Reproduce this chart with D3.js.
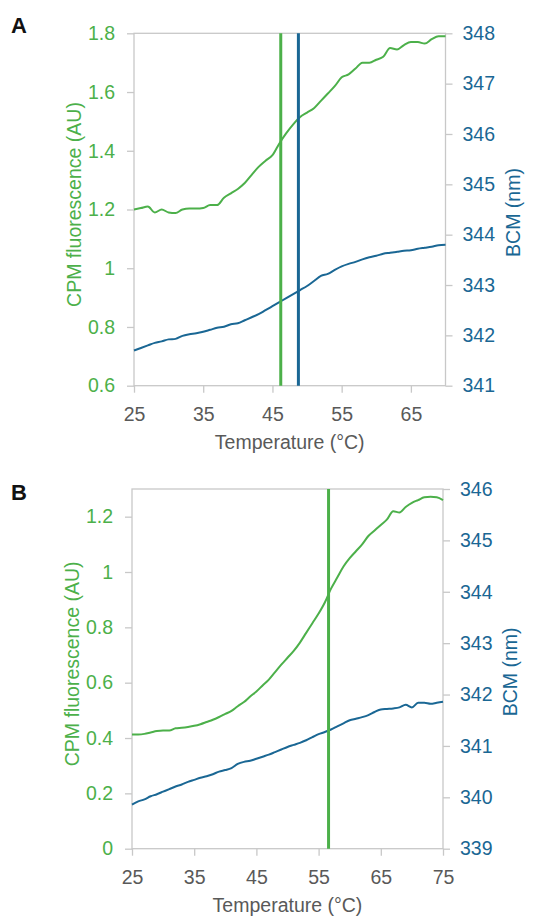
<!DOCTYPE html>
<html>
<head>
<meta charset="utf-8">
<script src="https://cdn.jsdelivr.net/npm/d3@7"></script>
<style>
  body { margin: 0; background: #fff; }
  svg { display: block; font-family: "Liberation Sans", Arial, sans-serif; }
</style>
</head>
<body>
<div id="chart"></div>
<script>
// Panel A: temperatures 25..70 °C
const tempA = d3.range(25, 71);
const cpmA = [1.20, 1.205, 1.21, 1.19, 1.20, 1.19, 1.188, 1.20, 1.203, 1.203,
  1.205, 1.215, 1.215, 1.24, 1.255, 1.27, 1.29, 1.318, 1.345, 1.366,
  1.385, 1.425, 1.46, 1.49, 1.515, 1.53, 1.545, 1.57, 1.595, 1.62,
  1.65, 1.66, 1.68, 1.70, 1.70, 1.71, 1.72, 1.75, 1.745, 1.76,
  1.77, 1.77, 1.765, 1.78, 1.79, 1.79];
const bcmA = [341.70, 341.75, 341.80, 341.85, 341.88, 341.92, 341.93, 341.99, 342.02, 342.04,
  342.07, 342.11, 342.15, 342.17, 342.22, 342.24, 342.30, 342.36, 342.42, 342.50,
  342.58, 342.66, 342.74, 342.82, 342.90, 342.98, 343.08, 343.18, 343.22, 343.30,
  343.37, 343.42, 343.46, 343.51, 343.55, 343.58, 343.62, 343.64, 343.66, 343.68,
  343.69, 343.72, 343.74, 343.76, 343.79, 343.80];
const tmA = { cpm: 46.2, bcm: 48.75 };

// Panel B: temperatures 25..75 °C
const tempB = d3.range(25, 76);
const cpmB = [0.413, 0.413, 0.415, 0.42, 0.425, 0.427, 0.427, 0.435, 0.437, 0.44,
  0.444, 0.45, 0.458, 0.466, 0.476, 0.487, 0.498, 0.515, 0.53, 0.55,
  0.568, 0.59, 0.611, 0.638, 0.665, 0.69, 0.715, 0.745, 0.78, 0.815,
  0.85, 0.89, 0.94, 0.98, 1.02, 1.05, 1.075, 1.10, 1.13, 1.15,
  1.17, 1.19, 1.22, 1.215, 1.235, 1.25, 1.26, 1.27, 1.272, 1.27, 1.26];
const bcmB = [339.86, 339.92, 339.96, 340.02, 340.06, 340.11, 340.16, 340.21, 340.25, 340.30,
  340.34, 340.38, 340.41, 340.45, 340.50, 340.53, 340.57, 340.65, 340.69, 340.71,
  340.75, 340.79, 340.83, 340.88, 340.93, 340.98, 341.02, 341.06, 341.11, 341.17,
  341.23, 341.27, 341.32, 341.38, 341.44, 341.50, 341.53, 341.56, 341.60, 341.66,
  341.71, 341.72, 341.73, 341.75, 341.80, 341.75, 341.84, 341.84, 341.82, 341.84, 341.86];
const tmB = { cpm: 56.6 };

const xTicksA = [25, 35, 45, 55, 65];
const xTicksB = [25, 35, 45, 55, 65, 75];
const cpmTicksA = [0.6, 0.8, 1, 1.2, 1.4, 1.6, 1.8];
const cpmTicksB = [0, 0.2, 0.4, 0.6, 0.8, 1, 1.2];
const bcmTicksA = [341, 342, 343, 344, 345, 346, 347, 348];
const bcmTicksB = [339, 340, 341, 342, 343, 344, 345, 346];

const green = "#4cb04a";
const blue = "#1a6794";
const gray = "#595959";
const axisGray = "#c8c8c8";
const fontSize = 19.5;

const svg = d3.select("#chart")
  .append("svg")
  .attr("width", 552)
  .attr("height", 916);

function panel(opts) {
  const { left, right, top, bottom } = opts;
  const g = svg.append("g");

  const x = d3.scaleLinear().domain(opts.xDomain).range([left, right]);
  const yL = d3.scaleLinear().domain(opts.cpmDomain).range([bottom, top]);
  const yR = d3.scaleLinear().domain(opts.bcmDomain).range([bottom, top]);

  // frame
  g.append("rect")
    .attr("x", left).attr("y", top)
    .attr("width", right - left).attr("height", bottom - top)
    .attr("fill", "none").attr("stroke", axisGray).attr("stroke-width", 1.3);

  const leftAxis = g.append("g")
    .attr("transform", `translate(${left},0)`)
    .call(d3.axisLeft(yL).tickValues(opts.cpmTicks).tickSize(7).tickPadding(12)
      .tickFormat(d3.format("~g")));
  const rightAxis = g.append("g")
    .attr("transform", `translate(${right},0)`)
    .call(d3.axisRight(yR).tickValues(opts.bcmTicks).tickSize(7).tickPadding(10)
      .tickFormat(d3.format("d")));
  const bottomAxis = g.append("g")
    .attr("transform", `translate(0,${bottom})`)
    .call(d3.axisBottom(x).tickValues(opts.xTicks).tickSize(7).tickPadding(14)
      .tickFormat(d3.format("d")));

  [leftAxis, rightAxis, bottomAxis].forEach((a) => {
    a.select(".domain").remove();
    a.selectAll(".tick line").attr("stroke", axisGray).attr("stroke-width", 1.3);
    a.selectAll("text").attr("font-size", fontSize).attr("font-family", null);
  });
  leftAxis.selectAll("text").attr("fill", green);
  rightAxis.selectAll("text").attr("fill", blue);
  bottomAxis.selectAll("text").attr("fill", gray);

  const line = (y) => d3.line().x((d) => x(d[0])).y((d) => y(d[1])).curve(d3.curveMonotoneX);

  g.append("path")
    .datum(d3.zip(opts.temp, opts.bcm))
    .attr("fill", "none").attr("stroke", blue).attr("stroke-width", 2)
    .attr("d", line(yR));
  g.append("path")
    .datum(d3.zip(opts.temp, opts.cpm))
    .attr("fill", "none").attr("stroke", green).attr("stroke-width", 2)
    .attr("d", line(yL));

  // melting temperature markers
  opts.marks.forEach((m) => {
    g.append("line")
      .attr("x1", x(m.t)).attr("x2", x(m.t))
      .attr("y1", top).attr("y2", bottom)
      .attr("stroke", m.color).attr("stroke-width", 3);
  });

  const midY = (top + bottom) / 2;
  g.append("text")
    .attr("transform", `translate(${left - 53},${midY - 5}) rotate(-90)`)
    .attr("text-anchor", "middle")
    .attr("font-size", fontSize).attr("fill", green)
    .text("CPM fluorescence (AU)");
  g.append("text")
    .attr("transform", `translate(${right + 74},${midY + 3}) rotate(-90)`)
    .attr("text-anchor", "middle")
    .attr("font-size", fontSize).attr("fill", blue)
    .text("BCM (nm)");
  g.append("text")
    .attr("x", (left + right) / 2).attr("y", bottom + 63)
    .attr("text-anchor", "middle")
    .attr("font-size", fontSize).attr("fill", gray)
    .text("Temperature (°C)");
  g.append("text")
    .attr("x", 11).attr("y", opts.labelY)
    .attr("font-size", 22).attr("font-weight", "bold").attr("fill", "#111")
    .text(opts.label);
}

panel({
  label: "A", labelY: 33,
  left: 134, right: 445.5, top: 33.3, bottom: 385.7,
  xDomain: [25, 70], cpmDomain: [0.6, 1.8], bcmDomain: [341, 348],
  xTicks: xTicksA, cpmTicks: cpmTicksA, bcmTicks: bcmTicksA,
  temp: tempA, cpm: cpmA, bcm: bcmA,
  marks: [{ t: tmA.cpm, color: green }, { t: tmA.bcm, color: blue }],
});

panel({
  label: "B", labelY: 500,
  left: 132, right: 443, top: 489, bottom: 848.7,
  xDomain: [25, 75], cpmDomain: [0, 1.3], bcmDomain: [339, 346],
  xTicks: xTicksB, cpmTicks: cpmTicksB, bcmTicks: bcmTicksB,
  temp: tempB, cpm: cpmB, bcm: bcmB,
  marks: [{ t: tmB.cpm, color: green }],
});
</script>
</body>
</html>
